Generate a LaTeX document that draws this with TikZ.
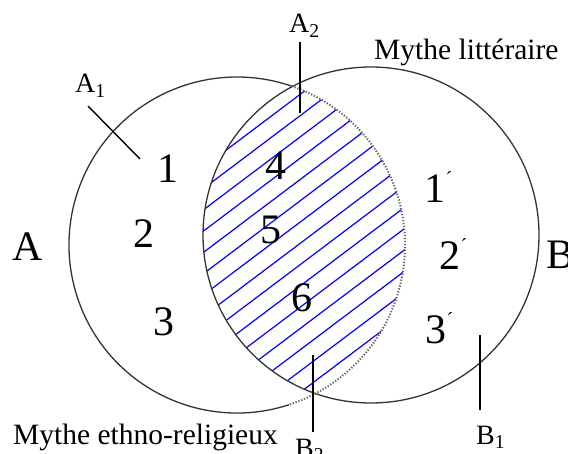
\documentclass[tikz,border=0pt]{standalone}
\usepackage{fontspec}
\setmainfont{Liberation Serif}
\usetikzlibrary{positioning,calc}

\newcommand{\pr}{\rlap{\raisebox{17pt}{\fontsize{20}{20}\selectfont ´}}}

\begin{document}
\begin{tikzpicture}[x=1pt, y=-1pt,
 ring/.style={draw=black!80, line width=1.3pt},
 ghost/.style={draw=black!60, line width=2pt, dash pattern=on 1.3pt off 1.7pt},
 hatch/.style={draw=blue, line width=1.2pt},
 num/.style={font=\fontsize{42}{46}\selectfont, inner sep=0pt, anchor=base},
 lbl/.style={font=\fontsize{28}{32}\selectfont, inner sep=0pt, anchor=base west},
 every edge/.append style={draw=black, line width=1.4pt}]

\useasboundingbox (0,0) rectangle (568,454);

\coordinate (cA) at (237,245);
\coordinate (cB) at (371,235);

% hatched common part
\begin{scope}
\clip (cA) circle[radius=168];
\clip (cB) circle[radius=168];
\begin{scope}[rotate=37]
\foreach \n in {256,273,...,511}
  \draw[hatch] (-150,\n) -- (450,\n);
\end{scope}
\end{scope}

% the two sets
\draw[ring] (cB) circle[radius=168];
\draw[ring] ($(cA)+(72:168)$) arc[start angle=72, end angle=289, radius=168];
\draw[ghost] ($(cA)+(-71:168)$) arc[start angle=-71, end angle=72, radius=168];

% elements
\node[num] (n1) at (168,183) {1};
\node[num] (n2) at (144,248) {2};
\node[num] (n3) at (164,336) {3};
\node[num] (n4) at (276,180) {4};
\node[num] (n5) at (271,244) {5};
\node[num] (n6) at (302,312) {6};
\node[num] (m1) at (435,203) {1\pr};
\node[num] (m2) at (450,270) {2\pr};
\node[num] (m3) at (436,344) {3\pr};

\node[num, anchor=base west] (A) at (12,261) {A};
\node[num, anchor=base west] (B) at (546,269) {B};

% labels
\node[lbl] (A1) at (75,93) {A\textsubscript{1}};
\node[lbl] (A2) at (289,33) {A\textsubscript{2}};
\node[lbl] (B1) at (476,444) {B\textsubscript{1}};
\node[lbl] (B2) at (295,457) {B\textsubscript{2}};
\node[lbl, font=\fontsize{29.5}{33}\selectfont] (lit) at (374,60) {Mythe littéraire};
\node[lbl, font=\fontsize{29.5}{33}\selectfont] (eth) at (13,444) {Mythe ethno-religieux};

\coordinate (a1s) at (88,106);
\coordinate (a1e) at (140,159);
\coordinate (a2s) at (300,42);
\coordinate (a2e) at (300,113);
\coordinate (b1s) at (480,335);
\coordinate (b1e) at (480,410);
\coordinate (b2s) at (313,355);
\coordinate (b2e) at (313,432);

\path
 (a1s) edge (a1e)
 (a2s) edge (a2e)
 (b1s) edge (b1e)
 (b2s) edge (b2e);
\end{tikzpicture}
\end{document}
